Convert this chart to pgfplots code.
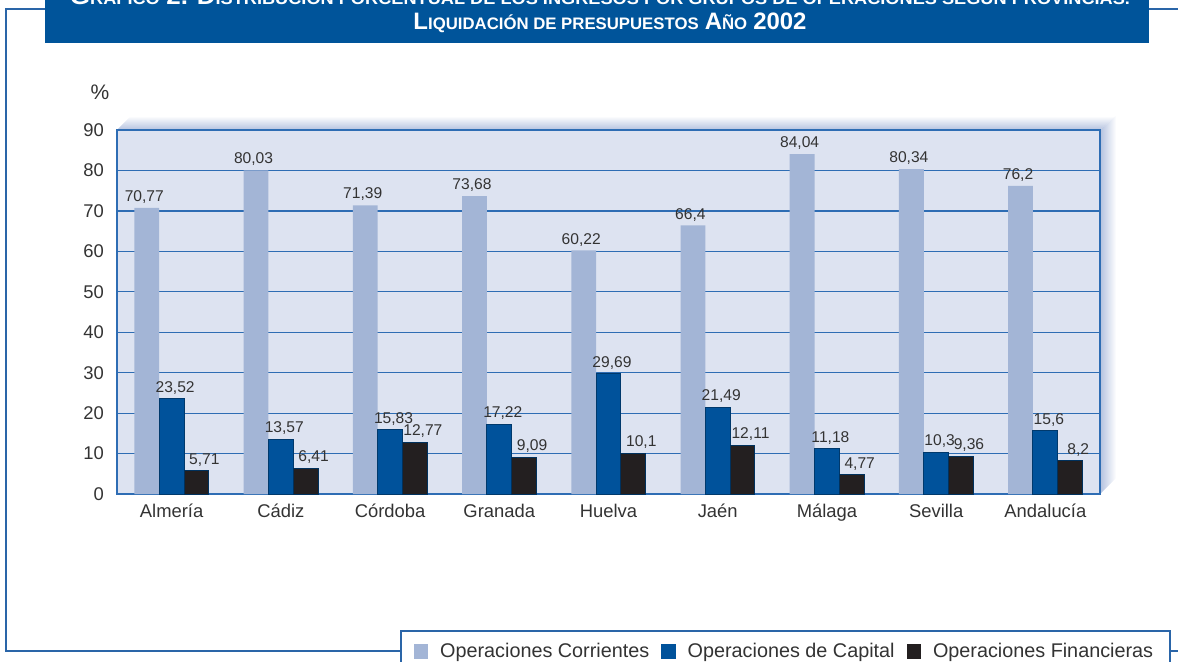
\documentclass[border=0pt]{standalone}
\usepackage{pgfplots}
\pgfplotsset{compat=1.18}
\usepackage{fontspec}
\usepackage{graphicx}
\setmainfont{Liberation Sans}
\definecolor{banner}{HTML}{00549A}
\definecolor{frameblue}{HTML}{2A65A8}
\definecolor{gridblue}{HTML}{2E6DB4}
\definecolor{bgblue}{HTML}{DDE3F1}
\definecolor{lightbar}{HTML}{A3B5D6}
\definecolor{bluebar}{HTML}{00529B}
\definecolor{blackbar}{HTML}{231F20}
\definecolor{txt}{HTML}{333333}
\definecolor{shadeblue}{HTML}{B3C1DF}
\newcommand{\SC}[2]{{\fontsize{11}{11}\selectfont #1}{\fontsize{7.7}{8}\selectfont #2}}
\begin{document}
\begin{tikzpicture}
\useasboundingbox (0,0) rectangle (589pt,-331pt);
\clip (0,0) rectangle (589pt,-331pt);
\begin{scope}[x=0.5pt,y=-0.5pt]
  % outer frame
  \draw[frameblue, line width=0.75pt] (1190,9) -- (6,9) -- (6,651) -- (1190,651);
  % banner
  \fill[banner] (45,-5) rectangle (1149,43);
  \node[anchor=base, text=white, inner sep=0pt] at (600,5) {\resizebox{530pt}{8.3pt}{\bfseries\SC{G}{RÁFICO} \SC{2.}{} \SC{D}{ISTRIBUCIÓN PORCENTUAL DE LOS INGRESOS POR GRUPOS DE OPERACIONES SEGÚN PROVINCIAS.}}};
  \node[anchor=base, text=white, inner sep=0pt] at (610,30) {\resizebox{196.5pt}{8.3pt}{\bfseries\SC{L}{IQUIDACIÓN DE PRESUPUESTOS} \SC{A}{ÑO} \SC{2002}{}}};
  % 3D shading
  \shade[top color=white, bottom color=shadeblue] (117,130) -- (131,116) -- (1116,116) -- (1100,130) -- cycle;
  \shade[left color=shadeblue, right color=white] (1100,130) -- (1116,116) -- (1116,478) -- (1100,494) -- cycle;
  \node[text=txt, font=\fontsize{10.5}{12}\selectfont] at (100,92) {\%};
\end{scope}
\begin{axis}[
  at={(58.5pt,-247pt)}, anchor=south west,
  scale only axis, width=491.5pt, height=182pt,
  ybar, bar width=12.4pt,
  xmin=-0.5, xmax=8.5, ymin=0, ymax=90,
  xtick={0,...,8},
  xticklabels={Almería,Cádiz,Córdoba,Granada,Huelva,Jaén,Málaga,Sevilla,Andalucía},
  ytick={0,10,...,90},
  major tick length=0pt,
  ymajorgrids, grid style={gridblue, line width=0.6pt},
  axis line style={gridblue, line width=0.8pt},
  axis background/.style={fill=bgblue},
  tick label style={text=txt, font=\fontsize{9.2}{10}\selectfont},
  yticklabel style={xshift=-3pt},
  xticklabel style={yshift=-1.5pt},
  /pgf/number format/assume math mode=true,
  /pgf/number format/.cd, use comma, precision=2, 1000 sep={},
  /pgfplots/.cd,
  every node near coord/.append style={text=txt, font=\fontsize{7.8}{9}\selectfont, inner sep=2pt},
  clip=false,
  legend columns=3,
  legend style={at={(0.2879,-0.3736)}, anchor=north west, draw=frameblue, line width=0.8pt, fill=white,
    font=\fontsize{9.9}{11}\selectfont, text=txt, inner xsep=6.5pt, inner ysep=4pt,
    /tikz/every odd column/.append style={column sep=4pt},
    /tikz/every even column/.append style={column sep=4pt}},
  legend image code/.code={\fill[#1, draw=none] (0pt,-3.6pt) rectangle (7.2pt,3.6pt);},
]
\addplot[bar shift=-12.4pt, fill=lightbar, draw=none] coordinates {(0,70.77) (1,80.03) (2,71.39) (3,73.68) (4,60.22) (5,66.4) (6,84.04) (7,80.34) (8,76.2)};
\addplot[bar shift=0pt, fill=bluebar, draw=bluebar!70!black, line width=0.5pt] coordinates {(0,23.52) (1,13.57) (2,15.83) (3,17.22) (4,29.69) (5,21.49) (6,11.18) (7,10.3) (8,15.6)};
\addplot[bar shift=12.4pt, fill=blackbar, draw=bluebar!60!black, line width=0.5pt] coordinates {(0,5.71) (1,6.41) (2,12.77) (3,9.09) (4,10.1) (5,12.11) (6,4.77) (7,9.36) (8,8.2)};
\legend{Operaciones Corrientes, Operaciones de Capital, Operaciones Financieras}
% value labels drawn on top of all bars
\addplot[forget plot, bar shift=-12.4pt, draw=none, fill=none, nodes near coords,
  every node near coord/.append style={xshift=-1.25pt}] coordinates {(0,70.77) (1,80.03) (2,71.39) (3,73.68) (4,60.22) (5,66.4) (6,84.04) (7,80.34) (8,76.2)};
\addplot[forget plot, bar shift=0pt, draw=none, fill=none, nodes near coords,
  every node near coord/.append style={xshift=1.75pt}] coordinates {(0,23.52) (1,13.57) (2,15.83) (3,17.22) (4,29.69) (5,21.49) (6,11.18) (7,10.3) (8,15.6)};
\addplot[forget plot, bar shift=12.4pt, draw=none, fill=none, nodes near coords,
  every node near coord/.append style={xshift=4pt}] coordinates {(0,5.71) (1,6.41) (2,12.77) (3,9.09) (4,10.1) (5,12.11) (6,4.77) (7,9.36) (8,8.2)};
\end{axis}
\end{tikzpicture}
\end{document}
